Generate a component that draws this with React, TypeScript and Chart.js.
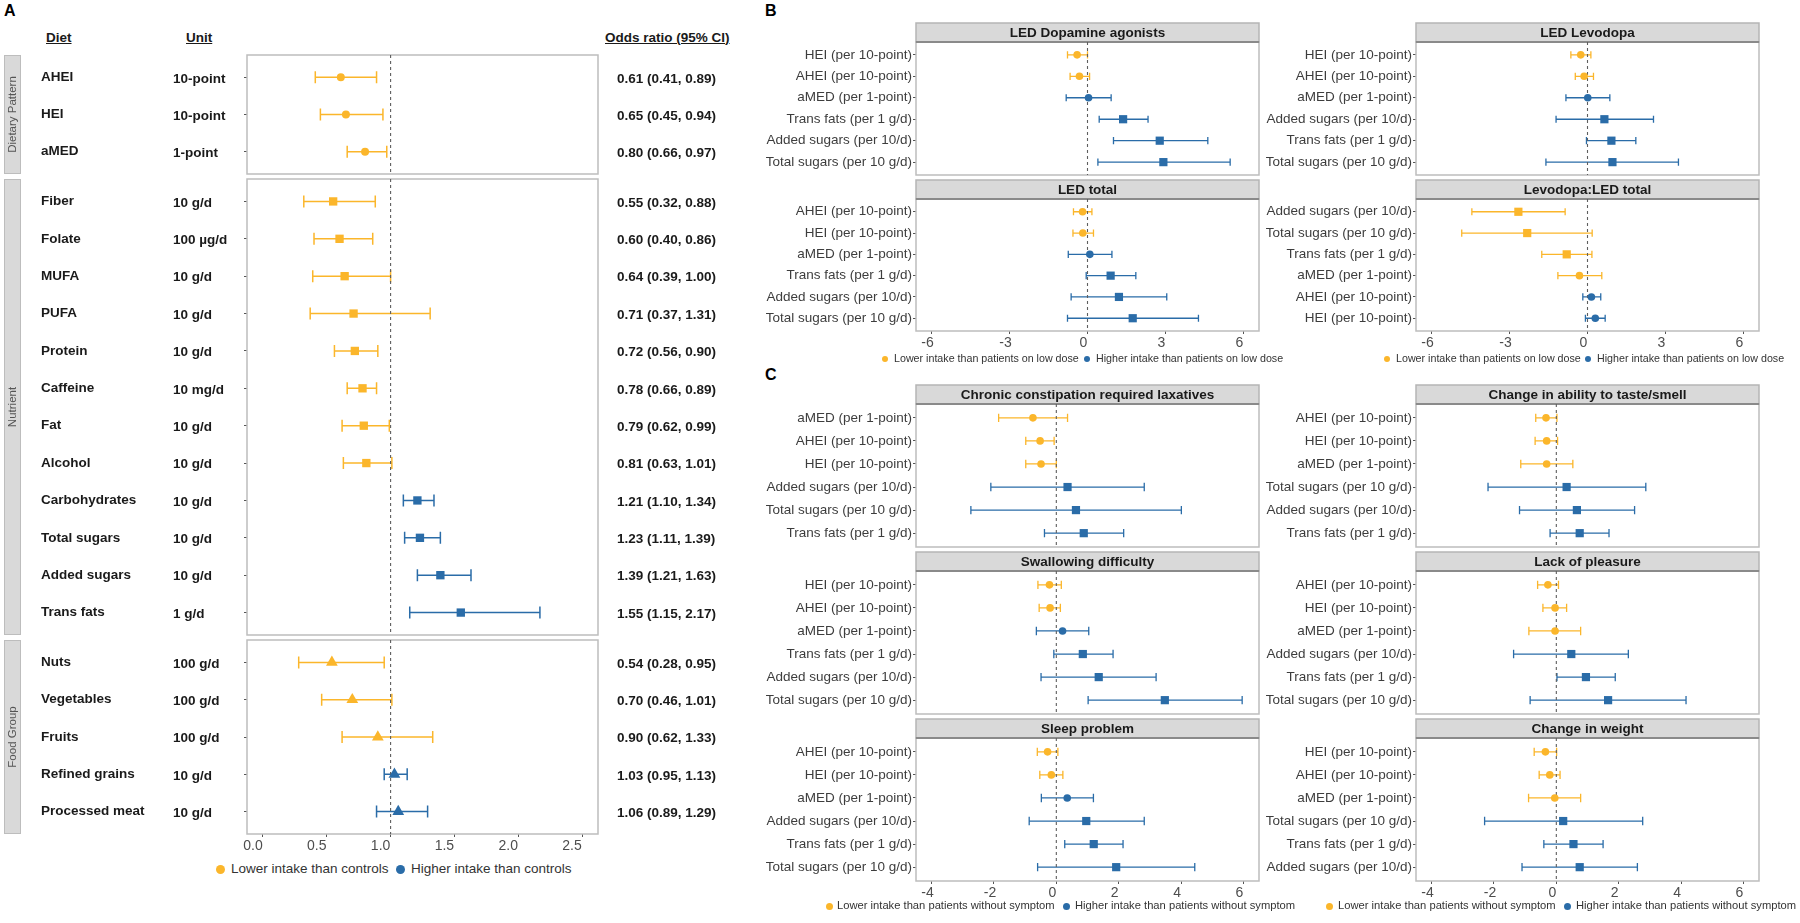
import React, { useEffect, useRef } from 'react';
import { Chart, registerables } from 'chart.js';
Chart.register(...registerables);

const FAMILY = '"Liberation Sans", Arial, Helvetica, sans-serif';
const YELLOW = '#FBB62B';
const BLUE = '#2A6CA8';

// ---------------- Panel A data ----------------
const dietPatternNames = ['AHEI', 'HEI', 'aMED'];
const dietPatternUnits = ['10-point', '10-point', '1-point'];
const dietPatternOR = [0.61, 0.65, 0.8];
const dietPatternLo = [0.41, 0.45, 0.66];
const dietPatternHi = [0.89, 0.94, 0.97];

const nutrientNames = ['Fiber', 'Folate', 'MUFA', 'PUFA', 'Protein', 'Caffeine', 'Fat', 'Alcohol', 'Carbohydrates', 'Total sugars', 'Added sugars', 'Trans fats'];
const nutrientUnits = ['10 g/d', '100 µg/d', '10 g/d', '10 g/d', '10 g/d', '10 mg/d', '10 g/d', '10 g/d', '10 g/d', '10 g/d', '10 g/d', '1 g/d'];
const nutrientOR = [0.55, 0.6, 0.64, 0.71, 0.72, 0.78, 0.79, 0.81, 1.21, 1.23, 1.39, 1.55];
const nutrientLo = [0.32, 0.4, 0.39, 0.37, 0.56, 0.66, 0.62, 0.63, 1.1, 1.11, 1.21, 1.15];
const nutrientHi = [0.88, 0.86, 1.0, 1.31, 0.9, 0.89, 0.99, 1.01, 1.34, 1.39, 1.63, 2.17];

const foodNames = ['Nuts', 'Vegetables', 'Fruits', 'Refined grains', 'Processed meat'];
const foodUnits = ['100 g/d', '100 g/d', '100 g/d', '10 g/d', '10 g/d'];
const foodOR = [0.54, 0.7, 0.9, 1.03, 1.06];
const foodLo = [0.28, 0.46, 0.62, 0.95, 0.89];
const foodHi = [0.95, 1.01, 1.33, 1.13, 1.29];

const orTicks = [0, 0.5, 1, 1.5, 2, 2.5];

// ---------------- Panel B data ----------------
const dopaLabels = ['HEI (per 10-point)', 'AHEI (per 10-point)', 'aMED (per 1-point)', 'Trans fats (per 1 g/d)', 'Added sugars (per 10/d)', 'Total sugars (per 10 g/d)'];
const dopaEst = [-0.4, -0.31, 0.04, 1.37, 2.78, 2.92];
const dopaLo = [-0.77, -0.67, -0.82, 0.45, 1.0, 0.4];
const dopaHi = [0.0, 0.08, 0.91, 2.33, 4.63, 5.49];

const levoLabels = ['HEI (per 10-point)', 'AHEI (per 10-point)', 'aMED (per 1-point)', 'Added sugars (per 10/d)', 'Trans fats (per 1 g/d)', 'Total sugars (per 10 g/d)'];
const levoEst = [-0.26, -0.13, 0.01, 0.65, 0.92, 0.96];
const levoLo = [-0.64, -0.47, -0.83, -1.21, -0.04, -1.6];
const levoHi = [0.13, 0.23, 0.86, 2.54, 1.86, 3.5];

const ledTotalLabels = ['AHEI (per 10-point)', 'HEI (per 10-point)', 'aMED (per 1-point)', 'Trans fats (per 1 g/d)', 'Added sugars (per 10/d)', 'Total sugars (per 10 g/d)'];
const ledTotalEst = [-0.19, -0.18, 0.09, 0.89, 1.21, 1.74];
const ledTotalLo = [-0.54, -0.56, -0.74, -0.05, -0.63, -0.77];
const ledTotalHi = [0.17, 0.23, 0.94, 1.86, 3.05, 4.27];

const ratioLabels = ['Added sugars (per 10/d)', 'Total sugars (per 10 g/d)', 'Trans fats (per 1 g/d)', 'aMED (per 1-point)', 'AHEI (per 10-point)', 'HEI (per 10-point)'];
const ratioEst = [-2.66, -2.32, -0.8, -0.31, 0.15, 0.3];
const ratioLo = [-4.45, -4.84, -1.76, -1.14, -0.18, -0.08];
const ratioHi = [-0.86, 0.18, 0.17, 0.55, 0.51, 0.68];

const bTicks = [-6, -3, 0, 3, 6];

// ---------------- Panel C data ----------------
const constipLabels = ['aMED (per 1-point)', 'AHEI (per 10-point)', 'HEI (per 10-point)', 'Added sugars (per 10/d)', 'Total sugars (per 10 g/d)', 'Trans fats (per 1 g/d)'];
const constipEst = [-0.75, -0.52, -0.49, 0.36, 0.63, 0.88];
const constipLo = [-1.85, -0.98, -0.98, -2.1, -2.74, -0.38];
const constipHi = [0.36, -0.07, 0.0, 2.82, 4.01, 2.16];

const tasteLabels = ['AHEI (per 10-point)', 'HEI (per 10-point)', 'aMED (per 1-point)', 'Total sugars (per 10 g/d)', 'Added sugars (per 10/d)', 'Trans fats (per 1 g/d)'];
const tasteEst = [-0.33, -0.31, -0.31, 0.33, 0.66, 0.75];
const tasteLo = [-0.66, -0.68, -1.14, -2.19, -1.18, -0.2];
const tasteHi = [0.02, 0.04, 0.53, 2.87, 2.51, 1.69];

const swallowLabels = ['HEI (per 10-point)', 'AHEI (per 10-point)', 'aMED (per 1-point)', 'Trans fats (per 1 g/d)', 'Added sugars (per 10/d)', 'Total sugars (per 10 g/d)'];
const swallowEst = [-0.22, -0.2, 0.2, 0.85, 1.36, 3.48];
const swallowLo = [-0.59, -0.55, -0.64, -0.08, -0.49, 1.02];
const swallowHi = [0.16, 0.13, 1.04, 1.82, 3.2, 5.96];

const pleasureLabels = ['AHEI (per 10-point)', 'HEI (per 10-point)', 'aMED (per 1-point)', 'Added sugars (per 10/d)', 'Trans fats (per 1 g/d)', 'Total sugars (per 10 g/d)'];
const pleasureEst = [-0.27, -0.04, -0.04, 0.48, 0.95, 1.66];
const pleasureLo = [-0.6, -0.43, -0.88, -1.37, 0.02, -0.84];
const pleasureHi = [0.07, 0.33, 0.78, 2.31, 1.89, 4.16];

const sleepLabels = ['AHEI (per 10-point)', 'HEI (per 10-point)', 'aMED (per 1-point)', 'Added sugars (per 10/d)', 'Trans fats (per 1 g/d)', 'Total sugars (per 10 g/d)'];
const sleepEst = [-0.28, -0.16, 0.35, 0.96, 1.2, 1.92];
const sleepLo = [-0.61, -0.53, -0.48, -0.87, 0.27, -0.6];
const sleepHi = [0.05, 0.21, 1.19, 2.82, 2.14, 4.44];

const weightLabels = ['HEI (per 10-point)', 'AHEI (per 10-point)', 'aMED (per 1-point)', 'Total sugars (per 10 g/d)', 'Trans fats (per 1 g/d)', 'Added sugars (per 10/d)'];
const weightEst = [-0.35, -0.21, -0.05, 0.22, 0.55, 0.75];
const weightLo = [-0.71, -0.55, -0.89, -2.3, -0.4, -1.1];
const weightHi = [0.01, 0.12, 0.78, 2.77, 1.5, 2.6];

const cTicks = [-4, -2, 0, 2, 4, 6];

// ---------------- component ----------------
type ForestProps = {
  left: number; top: number; width: number; height: number;
  labels: string[]; est: number[]; lo: number[]; hi: number[];
  shapes: string[]; colors: string[];
  xMin: number; xMax: number; xTicks: number[]; fmt: (v: number) => string;
  showX: boolean; refX: number; labelOffset: number;
  title?: string; stripH: number;
  yW: number; padTop: number; padRight: number; padBottom: number;
  showYLabels: boolean;
  radius: Record<string, number>; capHalf: number; lw: number;
  extra?: (chart: any) => void;
};

const X_H = 22;
const PAD = 12;

function Forest(p: ForestProps) {
  const ref = useRef<HTMLCanvasElement>(null);
  useEffect(() => {
    const n = p.labels.length;
    const plugin = {
      id: 'forest',
      beforeDatasetsDraw(chart: any) {
        const { ctx, chartArea: a, scales } = chart;
        const x = scales.x, y = scales.y;
        const w = a.right - a.left;
        ctx.save();
        // panel border
        ctx.strokeStyle = '#BDBDBD';
        ctx.lineWidth = 1.5;
        ctx.strokeRect(a.left, a.top, w, a.bottom - a.top);
        // facet strip
        if (p.title) {
          ctx.fillStyle = '#D9D9D9';
          ctx.fillRect(a.left, a.top - p.stripH, w, p.stripH);
          ctx.strokeStyle = '#B5B5B5';
          ctx.lineWidth = 1.5;
          ctx.strokeRect(a.left, a.top - p.stripH, w, p.stripH);
          ctx.strokeStyle = '#8A8A8A';
          ctx.lineWidth = 2;
          ctx.beginPath();
          ctx.moveTo(a.left, a.top);
          ctx.lineTo(a.right, a.top);
          ctx.stroke();
          ctx.fillStyle = '#1A1A1A';
          ctx.font = `bold 13.5px ${FAMILY}`;
          ctx.textAlign = 'center';
          ctx.textBaseline = 'middle';
          ctx.fillText(p.title, a.left + w / 2, a.top - p.stripH / 2 + 0.5);
        }
        // error bars
        ctx.lineWidth = p.lw;
        for (let i = 0; i < n; i++) {
          const py = y.getPixelForValue(i);
          const x0 = x.getPixelForValue(p.lo[i]);
          const x1 = x.getPixelForValue(p.hi[i]);
          ctx.strokeStyle = p.colors[i];
          ctx.beginPath();
          ctx.moveTo(x0, py); ctx.lineTo(x1, py);
          ctx.moveTo(x0, py - p.capHalf); ctx.lineTo(x0, py + p.capHalf);
          ctx.moveTo(x1, py - p.capHalf); ctx.lineTo(x1, py + p.capHalf);
          ctx.stroke();
        }
        // reference line
        const rx = x.getPixelForValue(p.refX);
        ctx.setLineDash([3, 3]);
        ctx.strokeStyle = '#5E5E5E';
        ctx.lineWidth = 1.1;
        ctx.beginPath();
        ctx.moveTo(rx, a.top);
        ctx.lineTo(rx, a.bottom);
        ctx.stroke();
        ctx.setLineDash([]);
        ctx.restore();
        if (p.extra) p.extra(chart);
      },
    };
    const chart = new Chart(ref.current as HTMLCanvasElement, {
      type: 'scatter',
      data: {
        datasets: [{
          data: p.est.map((v, i) => ({ x: v, y: i })),
          pointStyle: p.shapes as any,
          pointRadius: p.shapes.map((s) => p.radius[s]),
          pointHoverRadius: p.shapes.map((s) => p.radius[s]),
          pointBackgroundColor: p.colors,
          pointBorderColor: p.colors,
          pointBorderWidth: 0,
        }],
      },
      options: {
        animation: false,
        responsive: false,
        events: [],
        layout: { padding: { top: p.padTop, right: p.padRight, bottom: p.padBottom, left: 0 } },
        plugins: { legend: { display: false }, tooltip: { enabled: false }, title: { display: false } },
        scales: {
          x: {
            type: 'linear',
            min: p.xMin,
            max: p.xMax,
            bounds: 'data',
            display: p.showX,
            afterBuildTicks: (s: any) => { s.ticks = p.xTicks.map((v) => ({ value: v })); },
            afterFit: (s: any) => { s.height = p.showX ? X_H : 0; },
            ticks: {
              callback: (v: any) => p.fmt(Number(v)),
              font: { family: FAMILY, size: 14 },
              color: '#4D4D4D',
              padding: 1,
              labelOffset: p.labelOffset,
              maxRotation: 0,
              autoSkip: false,
            },
            grid: { drawOnChartArea: false, drawTicks: true, tickLength: 3, color: '#555', lineWidth: 1 },
            border: { display: false },
          },
          y: {
            type: 'linear',
            min: -0.6,
            max: n - 0.4,
            bounds: 'data',
            reverse: true,
            afterBuildTicks: (s: any) => { s.ticks = p.labels.map((_, i) => ({ value: i })); },
            afterFit: (s: any) => { s.width = p.yW; },
            ticks: {
              callback: (v: any) => (p.showYLabels ? p.labels[Number(v)] : ''),
              font: { family: FAMILY, size: 13.5 },
              color: '#3D3D3D',
              padding: 1,
              autoSkip: false,
            },
            grid: { drawOnChartArea: false, drawTicks: true, tickLength: 3, color: '#555', lineWidth: 1 },
            border: { display: false },
          },
        },
      } as any,
      plugins: [plugin],
    });
    return () => chart.destroy();
  }, []);
  return (
    <canvas
      ref={ref}
      width={p.width}
      height={p.height}
      style={{ position: 'absolute', left: p.left, top: p.top, width: p.width, height: p.height }}
    />
  );
}

function panelAExtra(title: string, names: string[], units: string[], or: number[], lo: number[], hi: number[]) {
  return (chart: any) => {
    const { ctx, chartArea: a, scales } = chart;
    const y = scales.y;
    ctx.save();
    ctx.fillStyle = '#D9D9D9';
    ctx.fillRect(4, a.top, 17, a.bottom - a.top);
    ctx.strokeStyle = '#BDBDBD';
    ctx.lineWidth = 1;
    ctx.strokeRect(4.5, a.top + 0.5, 16, a.bottom - a.top - 1);
    ctx.translate(13, (a.top + a.bottom) / 2);
    ctx.rotate(-Math.PI / 2);
    ctx.fillStyle = '#555555';
    ctx.font = `11.5px ${FAMILY}`;
    ctx.textAlign = 'center';
    ctx.textBaseline = 'middle';
    ctx.fillText(title, 0, 0);
    ctx.restore();
    ctx.save();
    ctx.fillStyle = '#1A1A1A';
    ctx.font = `bold 13.5px ${FAMILY}`;
    ctx.textBaseline = 'middle';
    ctx.textAlign = 'left';
    names.forEach((nm, i) => {
      const py = y.getPixelForValue(i);
      ctx.fillText(nm, 41, py);
      ctx.fillText(units[i], 173, py + 1.5);
      ctx.fillText(`${or[i].toFixed(2)} (${lo[i].toFixed(2)}, ${hi[i].toFixed(2)})`, 617, py + 1.5);
    });
    ctx.restore();
  };
}

const isScore = (l: string) => /^(HEI|AHEI|aMED)/.test(l);
const signColor = (v: number, ref: number) => (v < ref ? YELLOW : BLUE);

type FacetDef = {
  title: string; labels: string[]; est: number[]; lo: number[]; hi: number[];
  col: number; stripTop: number; panelTop: number; panelBottom: number; showX: boolean;
  xMin: number; xMax: number; ticks: number[]; cap: number;
};

const Y_W = 156;
const PANEL_W = 343;
const COL_L = 916;
const COL_R = 1416;

function facetNode(f: FacetDef, key: number) {
  const top = f.stripTop - 2;
  const height = f.panelBottom - top + (f.showX ? X_H : PAD);
  return (
    <Forest
      key={key}
      left={f.col - Y_W}
      top={top}
      width={Y_W + PANEL_W + 6}
      height={height}
      labels={f.labels}
      est={f.est}
      lo={f.lo}
      hi={f.hi}
      shapes={f.labels.map((l) => (isScore(l) ? 'circle' : 'rect'))}
      colors={f.est.map((v) => signColor(v, 0))}
      xMin={f.xMin}
      xMax={f.xMax}
      xTicks={f.ticks}
      fmt={(v) => String(v)}
      showX={f.showX}
      refX={0}
      labelOffset={-4}
      title={f.title}
      stripH={f.panelTop - f.stripTop}
      yW={Y_W}
      padTop={f.panelTop - top}
      padRight={6}
      padBottom={f.showX ? 0 : PAD}
      showYLabels={true}
      radius={{ circle: 3.8, rect: 5.8 }}
      capHalf={f.cap}
      lw={1.3}
    />
  );
}

function panelANode(key: number, title: string, names: string[], units: string[], or: number[], lo: number[], hi: number[], shape: string, panelTop: number, panelBottom: number, showX: boolean) {
  const top = panelTop - PAD;
  const height = panelBottom - top + (showX ? X_H : PAD);
  return (
    <Forest
      key={key}
      left={0}
      top={top}
      width={760}
      height={height}
      labels={names}
      est={or}
      lo={lo}
      hi={hi}
      shapes={names.map(() => shape)}
      colors={or.map((v) => signColor(v, 1))}
      xMin={-0.125}
      xMax={2.625}
      xTicks={orTicks}
      fmt={(v) => v.toFixed(1)}
      showX={showX}
      refX={1}
      labelOffset={-10}
      stripH={0}
      yW={247}
      padTop={PAD}
      padRight={162}
      padBottom={showX ? 0 : PAD}
      showYLabels={false}
      radius={{ circle: 4, rect: 5.9, triangle: 6.8 }}
      capHalf={6}
      lw={1.5}
      extra={panelAExtra(title, names, units, or, lo, hi)}
    />
  );
}

function Txt(props: { x: number; y: number; size: number; bold?: boolean; underline?: boolean; color?: string; children: React.ReactNode }) {
  return (
    <div
      style={{
        position: 'absolute',
        left: props.x,
        top: props.y - props.size * 0.55,
        fontSize: props.size,
        lineHeight: `${props.size}px`,
        fontWeight: props.bold ? 'bold' : 'normal',
        textDecoration: props.underline ? 'underline' : 'none',
        color: props.color || '#1A1A1A',
        whiteSpace: 'nowrap',
        fontFamily: FAMILY,
      }}
    >
      {props.children}
    </div>
  );
}

function Dot(props: { cx: number; cy: number; r: number; color: string }) {
  return (
    <div
      style={{
        position: 'absolute',
        left: props.cx - props.r,
        top: props.cy - props.r,
        width: props.r * 2,
        height: props.r * 2,
        borderRadius: '50%',
        background: props.color,
      }}
    />
  );
}

function Legend(props: { y: number; size: number; r: number; c1: number; t1: number; c2: number; t2: number; low: string; high: string }) {
  return (
    <>
      <Dot cx={props.c1} cy={props.y} r={props.r} color={YELLOW} />
      <Txt x={props.t1} y={props.y} size={props.size} color="#333333">{props.low}</Txt>
      <Dot cx={props.c2} cy={props.y} r={props.r} color={BLUE} />
      <Txt x={props.t2} y={props.y} size={props.size} color="#333333">{props.high}</Txt>
    </>
  );
}

const facets: FacetDef[] = [
  { title: 'LED Dopamine agonists', labels: dopaLabels, est: dopaEst, lo: dopaLo, hi: dopaHi, col: COL_L, stripTop: 23, panelTop: 42, panelBottom: 175, showX: false, xMin: -6.6, xMax: 6.6, ticks: bTicks, cap: 3.6 },
  { title: 'LED Levodopa', labels: levoLabels, est: levoEst, lo: levoLo, hi: levoHi, col: COL_R, stripTop: 23, panelTop: 42, panelBottom: 175, showX: false, xMin: -6.6, xMax: 6.6, ticks: bTicks, cap: 3.6 },
  { title: 'LED total', labels: ledTotalLabels, est: ledTotalEst, lo: ledTotalLo, hi: ledTotalHi, col: COL_L, stripTop: 180, panelTop: 199, panelBottom: 331, showX: true, xMin: -6.6, xMax: 6.6, ticks: bTicks, cap: 3.6 },
  { title: 'Levodopa:LED total', labels: ratioLabels, est: ratioEst, lo: ratioLo, hi: ratioHi, col: COL_R, stripTop: 180, panelTop: 199, panelBottom: 331, showX: true, xMin: -6.6, xMax: 6.6, ticks: bTicks, cap: 3.6 },
  { title: 'Chronic constipation required laxatives', labels: constipLabels, est: constipEst, lo: constipLo, hi: constipHi, col: COL_L, stripTop: 385, panelTop: 404, panelBottom: 547, showX: false, xMin: -4.5, xMax: 6.5, ticks: cTicks, cap: 4.2 },
  { title: 'Change in ability to taste/smell', labels: tasteLabels, est: tasteEst, lo: tasteLo, hi: tasteHi, col: COL_R, stripTop: 385, panelTop: 404, panelBottom: 547, showX: false, xMin: -4.5, xMax: 6.5, ticks: cTicks, cap: 4.2 },
  { title: 'Swallowing difficulty', labels: swallowLabels, est: swallowEst, lo: swallowLo, hi: swallowHi, col: COL_L, stripTop: 552, panelTop: 571, panelBottom: 714, showX: false, xMin: -4.5, xMax: 6.5, ticks: cTicks, cap: 4.2 },
  { title: 'Lack of pleasure', labels: pleasureLabels, est: pleasureEst, lo: pleasureLo, hi: pleasureHi, col: COL_R, stripTop: 552, panelTop: 571, panelBottom: 714, showX: false, xMin: -4.5, xMax: 6.5, ticks: cTicks, cap: 4.2 },
  { title: 'Sleep problem', labels: sleepLabels, est: sleepEst, lo: sleepLo, hi: sleepHi, col: COL_L, stripTop: 719, panelTop: 738, panelBottom: 881, showX: true, xMin: -4.5, xMax: 6.5, ticks: cTicks, cap: 4.2 },
  { title: 'Change in weight', labels: weightLabels, est: weightEst, lo: weightLo, hi: weightHi, col: COL_R, stripTop: 719, panelTop: 738, panelBottom: 881, showX: true, xMin: -4.5, xMax: 6.5, ticks: cTicks, cap: 4.2 },
];

export default function App() {
  return (
    <div
      style={{
        position: 'fixed',
        left: 0,
        top: 0,
        width: 1800,
        height: 923,
        background: '#FFFFFF',
        overflow: 'hidden',
        fontFamily: FAMILY,
      }}
    >
      {/* panel letters */}
      <Txt x={4} y={12} size={16} bold color="#000">A</Txt>
      <Txt x={765} y={12} size={16} bold color="#000">B</Txt>
      <Txt x={765} y={376} size={16} bold color="#000">C</Txt>

      {/* panel A headers */}
      <Txt x={46} y={38} size={13.5} bold underline>Diet</Txt>
      <Txt x={186} y={38} size={13.5} bold underline>Unit</Txt>
      <Txt x={605} y={38} size={13.5} bold underline>Odds ratio (95% CI)</Txt>

      {panelANode(1, 'Dietary Pattern', dietPatternNames, dietPatternUnits, dietPatternOR, dietPatternLo, dietPatternHi, 'circle', 55, 174, false)}
      {panelANode(2, 'Nutrient', nutrientNames, nutrientUnits, nutrientOR, nutrientLo, nutrientHi, 'rect', 179, 635, false)}
      {panelANode(3, 'Food Group', foodNames, foodUnits, foodOR, foodLo, foodHi, 'triangle', 640, 834, true)}

      <Legend y={869} size={13.5} r={4.5} c1={220} t1={231} c2={400} t2={411}
        low="Lower intake than controls" high="Higher intake than controls" />

      {facets.map((f, i) => facetNode(f, 10 + i))}

      <Legend y={359} size={10.7} r={3.3} c1={885} t1={894} c2={1087} t2={1096}
        low="Lower intake than patients on low dose" high="Higher intake than patients on low dose" />
      <Legend y={359} size={10.7} r={3.3} c1={1387} t1={1396} c2={1588} t2={1597}
        low="Lower intake than patients on low dose" high="Higher intake than patients on low dose" />

      <Legend y={906} size={11.2} r={3.5} c1={829} t1={837} c2={1066} t2={1075}
        low="Lower intake than patients without symptom" high="Higher intake than patients without symptom" />
      <Legend y={906} size={11.2} r={3.5} c1={1329} t1={1338} c2={1567} t2={1576}
        low="Lower intake than patients without symptom" high="Higher intake than patients without symptom" />
    </div>
  );
}
